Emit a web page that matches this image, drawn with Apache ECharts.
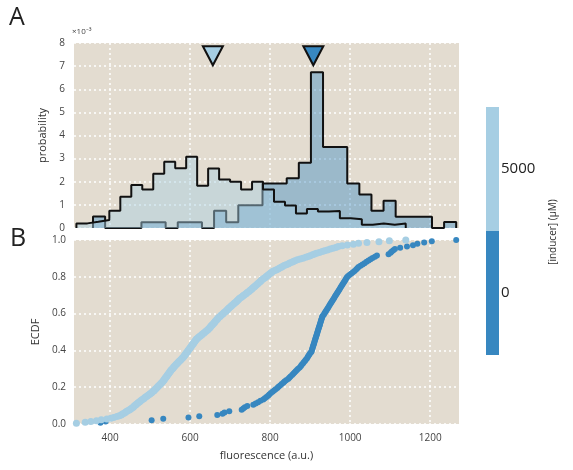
<!DOCTYPE html>
<html>
<head>
<meta charset="utf-8">
<script src="https://cdn.jsdelivr.net/npm/echarts@6/dist/echarts.min.js"></script>
<style>
html,body{margin:0;padding:0;background:#fff;}
#chart{width:573px;height:470px;}
</style>
</head>
<body>
<div id="chart"></div>
<script>
// ---------------- data ----------------
const inducerLevels = ['0', '5000'];
const inducerColors = ['#3787c0', '#a6cee3'];

// histogram densities (units of 1e-3), 30 bins each
const darkBinStart = 357.5, darkBinWidth = 30.25;
const darkHist = [0.5, 0, 0, 0, 0.25, 0.25, 0, 0.25, 0.25, 0, 0.75, 0.25, 0.98, 0.98, 1.92,
  1.92, 2.15, 2.82, 6.74, 3.5, 3.5, 1.92, 1.45, 0.75, 1.18, 0.49, 0.49, 0.49, 0, 0.26];
const lightBinStart = 316, lightBinWidth = 27.43;
const lightHist = [0.2, 0.27, 0.35, 0.75, 1.35, 1.86, 1.67, 2.35, 2.86, 2.58, 3.08, 1.83, 2.57,
  2.1, 2.0, 1.67, 2.0, 1.67, 1.13, 0.97, 0.63, 0.82, 0.71, 0.74, 0.42, 0.38, 0.14, 0.19, 0.14, 0.19];

// mean markers
const meanFluor = [908, 657];

// sorted fluorescence values (for ECDF)
const darkValues = [376, 389, 504, 533, 596, 623, 668, 681, 686, 698,
  729, 733, 737, 743, 758, 764, 770, 776,
  783, 787, 791, 795, 798, 802, 806, 810,
  814, 818, 821, 825, 829, 833, 836, 840,
  845, 848, 851, 855, 858, 861, 864, 867, 870,
  874, 877, 879, 882, 884, 887, 889, 892, 894, 896, 898, 900,
  903, 904, 905, 906, 907, 908, 909, 910, 911, 912, 913, 914, 915, 916, 917, 918, 919, 920,
  921, 922, 923, 924, 925, 926, 927, 928, 929, 930, 931,
  934, 936, 938, 940, 942, 944, 946, 948, 950, 952, 954, 956, 958, 960, 962,
  964, 966, 968, 970, 972, 974, 976, 978, 980, 982, 984, 986, 988, 990, 992,
  995, 999, 1003, 1007, 1011, 1015, 1018, 1021,
  1026, 1031, 1036, 1041, 1046, 1051,
  1056, 1062, 1067,
  1096, 1101, 1104, 1108, 1112,
  1125, 1142, 1157, 1168, 1185, 1204, 1265];

const lightValues = [316, 338, 352, 366, 378, 392, 402, 409, 417, 423,
  428, 431, 435, 438, 441, 444, 448, 451,
  454, 457, 459, 461, 464, 466, 469, 471, 474, 476, 479,
  482, 485, 487, 490, 493, 496, 499, 501, 504, 506,
  509, 511, 513, 515, 517, 519, 521, 523, 525, 527, 529, 531, 533, 534,
  536, 537, 539, 540, 542, 543, 545, 546, 548, 549, 551, 552, 554, 556, 558, 559, 561,
  563, 565, 567, 569, 571, 573, 575, 577, 579, 581, 583, 585, 586, 588, 589,
  591, 592, 594, 595, 597, 598, 600, 601, 603, 604, 606, 607, 609, 610, 612, 613, 615, 616,
  619, 621, 624, 626, 629, 631, 634, 636, 639, 641, 644,
  646, 648, 650, 651, 653, 655, 657, 659, 661, 662, 664, 666, 668, 669, 671,
  674, 676, 678, 681, 683, 685, 688, 690, 692, 694, 696, 698,
  701, 703, 705, 708, 710, 712, 715, 717, 719, 721, 723, 726,
  729, 732, 734, 737, 740, 742, 745, 748, 750, 753,
  755, 757, 760, 762, 764, 767, 769, 771, 774, 776, 778, 780,
  783, 786, 789, 791, 794, 796, 799, 802, 804, 807,
  812, 816, 820, 824, 828, 831, 835,
  840, 845, 849, 854, 858, 862,
  868, 875, 882, 889,
  895, 900, 906, 911, 916,
  923, 930, 936, 943,
  950, 957, 964, 970,
  980, 993, 1008, 1021, 1042, 1072, 1098, 1139];

const xTicks = { min: 310, max: 1272, step: 200 };
const histTicks = { min: 0, max: 8, step: 1 };
const ecdfTicks = { min: 0, max: 1, step: 0.2 };

// ---------------- helpers ----------------
function stepData(start, width, hist) {
  const d = [[start, 0]];
  hist.forEach((h, i) => d.push([start + i * width, h]));
  d.push([start + hist.length * width, 0]);
  return d;
}
function ecdf(vals) {
  const s = vals.slice().sort((a, b) => a - b);
  return s.map((v, i) => [v, (i + 1) / s.length]);
}

const BG = '#e3dcd0';
const FONT = 'Open Sans';
const gridLine = { show: true, lineStyle: { color: '#ffffff', type: [2, 3], width: 1.5 } };
const tickLabel = { color: '#444', fontSize: 10, fontFamily: FONT };

const chart = echarts.init(document.getElementById('chart'), null, { renderer: 'canvas' });

const xAxisBase = {
  type: 'value', min: xTicks.min, max: xTicks.max,
  minInterval: xTicks.step, maxInterval: xTicks.step,
  axisLine: { show: false }, axisTick: { show: false },
  splitLine: Object.assign({ showMinLine: false, showMaxLine: false }, gridLine)
};

const option = {
  animation: false,
  backgroundColor: '#fff',
  textStyle: { fontFamily: FONT },
  grid: [
    { left: 74, top: 43, width: 385, height: 185, show: true, backgroundColor: BG, borderWidth: 0 },
    { left: 74, top: 240, width: 385, height: 184, show: true, backgroundColor: BG, borderWidth: 0 }
  ],
  xAxis: [
    Object.assign({}, xAxisBase, { gridIndex: 0, axisLabel: { show: false } }),
    Object.assign({}, xAxisBase, {
      gridIndex: 1,
      axisLabel: Object.assign({ margin: 9, showMinLabel: false, showMaxLabel: false, formatter: v => String(v) }, tickLabel),
      name: 'fluorescence (a.u.)', nameLocation: 'middle', nameGap: 26,
      nameTextStyle: { color: '#333', fontSize: 11, fontFamily: FONT }
    })
  ],
  yAxis: [
    {
      gridIndex: 0, type: 'value', min: histTicks.min, max: histTicks.max, interval: histTicks.step,
      axisLine: { show: false }, axisTick: { show: false },
      axisLabel: Object.assign({ margin: 9 }, tickLabel),
      splitLine: gridLine,
      name: 'probability', nameLocation: 'middle', nameGap: 18,
      nameTextStyle: { color: '#333', fontSize: 11, fontFamily: FONT }
    },
    {
      gridIndex: 1, type: 'value', min: ecdfTicks.min, max: ecdfTicks.max, interval: ecdfTicks.step,
      axisLine: { show: false }, axisTick: { show: false },
      axisLabel: Object.assign({ margin: 8, formatter: v => v.toFixed(1) }, tickLabel),
      splitLine: gridLine,
      name: 'ECDF', nameLocation: 'middle', nameGap: 28,
      nameTextStyle: { color: '#333', fontSize: 11, fontFamily: FONT }
    }
  ],
  series: [
    {
      type: 'line', xAxisIndex: 0, yAxisIndex: 0, step: 'end', symbol: 'none',
      data: stepData(darkBinStart, darkBinWidth, darkHist),
      lineStyle: { color: '#111', width: 2 },
      areaStyle: { color: inducerColors[0], opacity: 0.42 }, z: 2
    },
    {
      type: 'line', xAxisIndex: 0, yAxisIndex: 0, step: 'end', symbol: 'none',
      data: stepData(lightBinStart, lightBinWidth, lightHist),
      lineStyle: { color: '#111', width: 2 },
      areaStyle: { color: inducerColors[1], opacity: 0.45 }, z: 3
    },
    {
      type: 'scatter', xAxisIndex: 0, yAxisIndex: 0,
      symbol: 'triangle', symbolRotate: 180, symbolSize: [20, 19],
      data: meanFluor.map((m, i) => ({ value: [m, 7.45], itemStyle: { color: inducerColors[i] } })),
      itemStyle: { borderColor: '#111', borderWidth: 2, opacity: 1 }, z: 5
    },
    {
      type: 'scatter', xAxisIndex: 1, yAxisIndex: 1, symbolSize: 6,
      data: ecdf(darkValues), itemStyle: { color: inducerColors[0], opacity: 1 }, z: 3
    },
    {
      type: 'scatter', xAxisIndex: 1, yAxisIndex: 1, symbolSize: 7,
      data: ecdf(lightValues), itemStyle: { color: inducerColors[1], opacity: 1 }, z: 4
    }
  ],
  graphic: [
    { type: 'text', left: 9, top: 5, style: { text: 'A', fontSize: 25, fontFamily: FONT, fill: '#222' } },
    { type: 'text', left: 10, top: 226, style: { text: 'B', fontSize: 25, fontFamily: FONT, fill: '#222' } },
    { type: 'text', left: 72, top: 28, style: { text: '×10⁻³', fontSize: 8, fontFamily: FONT, fill: '#444' } },
    { type: 'rect', shape: { x: 486, y: 107, width: 13, height: 124 }, style: { fill: inducerColors[1] } },
    { type: 'rect', shape: { x: 486, y: 231, width: 13, height: 124 }, style: { fill: inducerColors[0] } },
    { type: 'text', x: 501, y: 169, style: { text: inducerLevels[1], fontSize: 15, fontFamily: FONT, fill: '#222', verticalAlign: 'middle' } },
    { type: 'text', x: 501, y: 293, style: { text: inducerLevels[0], fontSize: 15, fontFamily: FONT, fill: '#222', verticalAlign: 'middle' } },
    { type: 'text', x: 553, y: 232, rotation: Math.PI / 2,
      style: { text: '[inducer] (μM)', fontSize: 10, fontFamily: FONT, fill: '#333', align: 'center', verticalAlign: 'middle' } }
  ]
};
chart.setOption(option);
</script>
</body>
</html>
